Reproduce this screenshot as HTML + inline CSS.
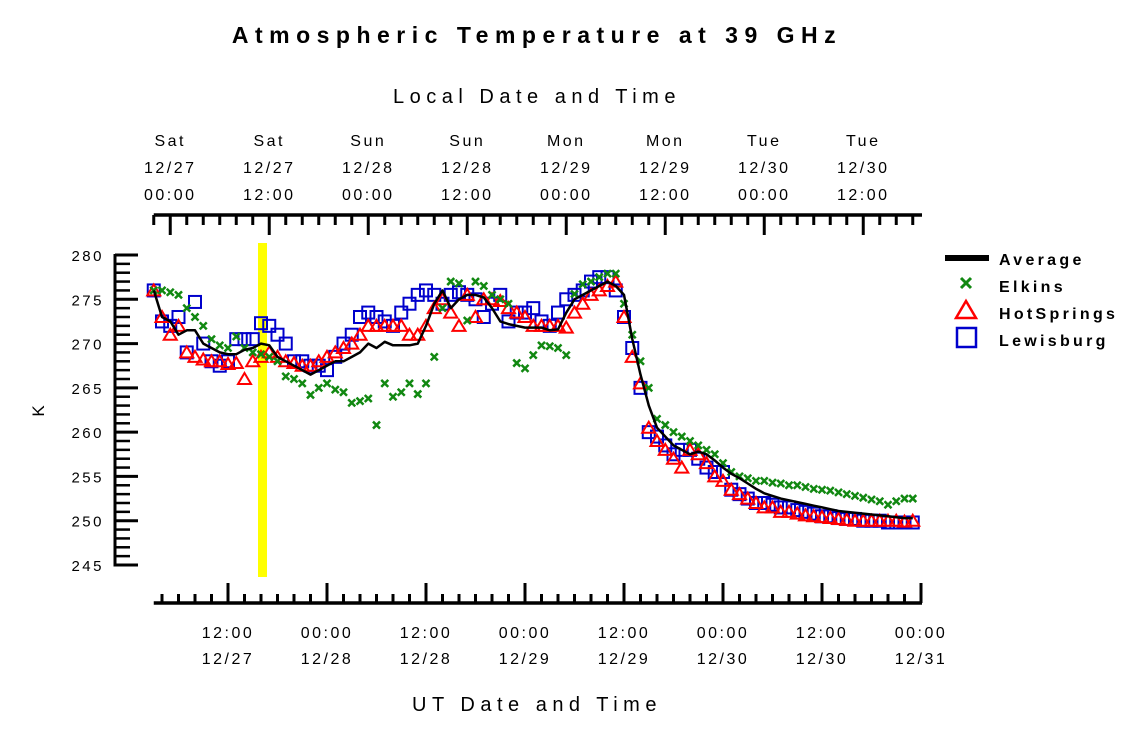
<!DOCTYPE html>
<html><head><meta charset="utf-8"><style>
body{margin:0;background:#fff;}
svg text{font-family:"Liberation Sans",sans-serif;fill:#000;}
</style></head><body>
<svg id="chart" width="1125" height="731" viewBox="0 0 1125 731" xmlns="http://www.w3.org/2000/svg">
<text x="537" y="43" text-anchor="middle" font-size="23" font-weight="bold" letter-spacing="6.5">Atmospheric Temperature at 39 GHz</text>
<text x="537" y="103" text-anchor="middle" font-size="20" letter-spacing="5.5">Local Date and Time</text>
<text x="537" y="711" text-anchor="middle" font-size="20" letter-spacing="5.5">UT Date and Time</text>
<text x="44" y="411" text-anchor="middle" font-size="17" transform="rotate(-90 44 411)">K</text>
<rect x="258" y="243" width="9" height="334" fill="#ffff00"/>
<g id="axes"></g>
<g id="series"></g>
<g>
<rect x="945" y="255" width="44" height="6" fill="#000"/>
<text x="999" y="265" font-size="16" font-weight="bold" letter-spacing="3.3">Average</text>
<path d="M961 278 L971 288 M971 278 L961 288" stroke="#118811" stroke-width="3"/>
<text x="999" y="292" font-size="16" font-weight="bold" letter-spacing="3.3">Elkins</text>
<path d="M966 301 L976 318 L956 318 Z" fill="none" stroke="#ff0000" stroke-width="2.5"/>
<text x="999" y="319" font-size="16" font-weight="bold" letter-spacing="3.3">HotSprings</text>
<rect x="957" y="328" width="19" height="19" fill="none" stroke="#0000cc" stroke-width="2.5"/>
<text x="999" y="346" font-size="16" font-weight="bold" letter-spacing="3.3">Lewisburg</text>
</g>
</svg>
<script>
// hours since 12/27 00:00 UT; series start at hour 3, one value per hour
var startHour = 3;
var averageK = [276,273,272.5,271,271.5,271.5,270,269.5,269,268.8,
268.8,269.3,269.5,270,269.8,268.5,268,267.5,267,266.5,
267,267.5,268,268,268.5,269,270,269.5,270.2,269.8,
269.8,269.8,270,272,274.5,276,274,275,275.5,275.5,
275.2,274,272.5,272.2,272,271.8,271.8,271.8,271.5,271.6,
273.5,275,275.5,276,276.5,277,276.5,275.5,270.5,266.5,
263,260.5,259.5,258.5,258,257.5,257.8,257.5,256.8,256,
255.3,254.8,254.2,253.6,253.1,252.8,252.5,252.3,252.1,251.9,
251.7,251.5,251.3,251.1,251,250.9,250.8,250.7,250.6,250.5,
250.4,250.3,250.3];
var elkinsK = [276,276,275.8,275.5,274,273,272,270.5,269.8,269.5,
270.8,269.5,269,268.8,268.5,268,266.3,266,265.5,264.2,
265,265.5,264.8,264.5,263.3,263.5,263.8,260.8,265.5,264,
264.5,265.5,264.3,265.5,268.5,274,277,276.8,272.6,277,
276.5,275.5,275,274.5,267.8,267.2,268.7,269.8,269.7,269.5,
268.7,275.6,276.7,277,277.5,277.9,277.9,274.5,271,268,
265,261.5,260.8,260,259.5,259,258.5,258,257.5,256.5,
255.5,255,254.8,254.5,254.5,254.3,254.2,254,254,253.8,
253.6,253.5,253.4,253.2,253,252.8,252.6,252.4,252.2,251.8,
252.2,252.5,252.5];
var hotSpringsK = [276,273,271,272,269,268.5,268.2,268,268,267.7,
267.8,266,268,268.5,269,268.5,268,267.8,267.5,267.5,
268,268.5,269,269.5,270,271,272,272,272,272,
272,271,271,272,274,275,273.5,272,275.5,273,
275,275,274.8,274,273.5,273,272,272,272,272,
271.8,273.5,274.5,275.5,276,276.5,277,273,268.5,265.5,
260.5,259,258,257,256,258,257.5,256.5,255,254.5,
253.5,253,252.5,252,251.5,251.5,251,251,250.8,250.6,
250.5,250.4,250.3,250.2,250.1,250,250,250,250,250,
250,249.9,250];
var lewisburgK = [276,272.5,272,273,269,274.7,270,268,267.5,268,
270.5,270.5,270.5,272.3,272,271,270,268,268,267.5,
267.5,267,268.5,270,271,273,273.5,273,272.5,272,
273.5,274.5,275.5,276,275.5,274.5,275.5,275.8,275.5,275,
273,274.5,275.5,272.5,273.5,273.5,274,272.5,272,273.5,
275,275.5,276,277,277.5,277.5,276,273,269.5,265,
260,259.5,258.5,257.5,258,258,257,256,255.5,255.5,
253.5,253,252.5,252,252,251.8,251.5,251.5,251.2,251,
250.8,250.5,250.5,250.3,250.2,250.2,250,250,250,249.8,
249.8,249.8,249.8];
var yTickValues = [245,250,255,260,265,270,275,280];
var bottomTickHours = [12,24,36,48,60,72,84,96];
var bottomTickLine1 = ["12:00","00:00","12:00","00:00","12:00","00:00","12:00","00:00"];
var bottomTickLine2 = ["12/27","12/28","12/28","12/29","12/29","12/30","12/30","12/31"];
var topTickHours = [5,17,29,41,53,65,77,89];
var topTickDay = ["Sat","Sat","Sun","Sun","Mon","Mon","Tue","Tue"];
var topTickDate = ["12/27","12/27","12/28","12/28","12/29","12/29","12/30","12/30"];
var topTickTime = ["00:00","12:00","00:00","12:00","00:00","12:00","00:00","12:00"];

var NS="http://www.w3.org/2000/svg";
function xScale(h){return 129+8.25*h;}
function yScale(k){return 255+(280-k)*8.857;}
function mk(tag,attrs,parent){var e=document.createElementNS(NS,tag);for(var a in attrs)e.setAttribute(a,attrs[a]);parent.appendChild(e);return e;}
var axes=document.getElementById('axes');
var series=document.getElementById('series');

var yl=mk('line',{x1:115,y1:yScale(280)-1,x2:115,y2:yScale(245)+1.5,stroke:'#000','stroke-width':3},axes);


for(var k=245;k<=280;k++){
  var major=(k%5===0);
  var t=mk('line',{x1:115,y1:yScale(k),x2:major?138:130,y2:yScale(k),stroke:'#000','stroke-width':major?3:2.5},axes);
  
  
}
yTickValues.forEach(function(v){
  var t=mk('text',{x:104,y:yScale(v)+6,'text-anchor':'end','font-size':15,'letter-spacing':2.5},axes);
  t.textContent=v;
  
  
});

var bl=mk('line',{x1:xScale(3),y1:603,x2:xScale(96)+1,y2:603,stroke:'#000','stroke-width':3.5},axes);


for(var h=4;h<=96;h+=2){
  var mj=(h%12===0);
  var t=mk('line',{x1:xScale(h),y1:mj?583:594,x2:xScale(h),y2:603,stroke:'#000','stroke-width':3},axes);
  
  
}
bottomTickHours.forEach(function(hh,i){
  var a=mk('text',{x:xScale(hh),y:638,'text-anchor':'middle','font-size':16,'letter-spacing':2.5},axes);
  a.textContent=bottomTickLine1[i];
  
  
  var b=mk('text',{x:xScale(hh),y:664,'text-anchor':'middle','font-size':16,'letter-spacing':2.5},axes);
  b.textContent=bottomTickLine2[i];
  
  
});

var tl=mk('line',{x1:xScale(3),y1:215,x2:xScale(96)+1,y2:215,stroke:'#000','stroke-width':3.5},axes);


for(var h2=3;h2<=95;h2+=2){
  var mj2=((h2-5)%12===0);
  var t2=mk('line',{x1:xScale(h2),y1:215,x2:xScale(h2),y2:mj2?235:225,stroke:'#000','stroke-width':3},axes);
  
  
}
topTickHours.forEach(function(hh,i){
  var a=mk('text',{x:xScale(hh),y:146,'text-anchor':'middle','font-size':16,'letter-spacing':2.5},axes);
  a.textContent=topTickDay[i];
  
  
  var b=mk('text',{x:xScale(hh),y:173,'text-anchor':'middle','font-size':16,'letter-spacing':2.5},axes);
  b.textContent=topTickDate[i];
  
  
  var c=mk('text',{x:xScale(hh),y:200,'text-anchor':'middle','font-size':16,'letter-spacing':2.5},axes);
  c.textContent=topTickTime[i];
  
  
});

lewisburgK.forEach(function(v,i){
  var x=xScale(startHour+i),y=yScale(v);
  var r=mk('rect',{x:x-6,y:y-6,width:12,height:12,fill:'none',stroke:'#0000cc','stroke-width':2},series);
  
  
});
hotSpringsK.forEach(function(v,i){
  var x=xScale(startHour+i),y=yScale(v);
  var p=mk('path',{d:'M'+x+' '+(y-6)+' L'+(x+6.5)+' '+(y+5)+' L'+(x-6.5)+' '+(y+5)+' Z',fill:'none',stroke:'#ff0000','stroke-width':2},series);
  
  
});
elkinsK.forEach(function(v,i){
  var x=xScale(startHour+i),y=yScale(v);
  var p=mk('path',{d:'M'+(x-3.5)+' '+(y-3.5)+' L'+(x+3.5)+' '+(y+3.5)+' M'+(x+3.5)+' '+(y-3.5)+' L'+(x-3.5)+' '+(y+3.5),stroke:'#118811','stroke-width':2.5},series);
  
  
});
var pts=averageK.map(function(v,i){return xScale(startHour+i).toFixed(1)+','+yScale(v).toFixed(1);}).join(' ');
var line=mk('polyline',{points:pts,fill:'none',stroke:'#000','stroke-width':2.5,'stroke-linejoin':'round'},series);


</script>
</body></html>
